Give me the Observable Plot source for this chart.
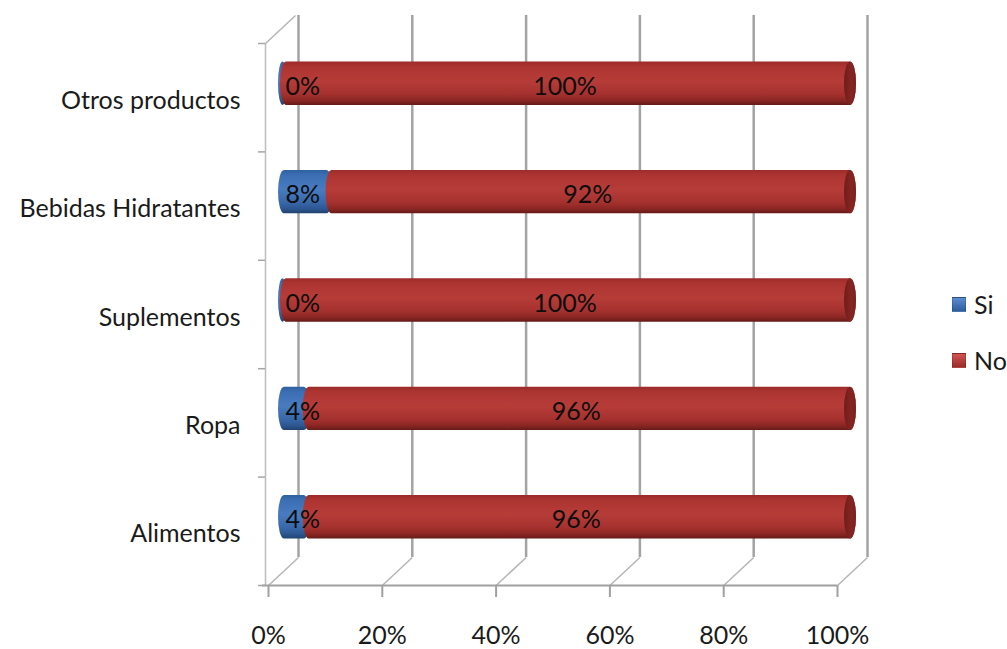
<!DOCTYPE html>
<html><head><meta charset="utf-8">
<script src="https://cdn.jsdelivr.net/npm/d3@7"></script>
<script src="https://cdn.jsdelivr.net/npm/@observablehq/plot@0.6"></script>
<style>
body{margin:0;background:#fff;}
#wrap{position:relative;width:1007px;height:649px;font-family:Lato,"Open Sans",sans-serif;overflow:hidden;}
#legend{position:absolute;left:952px;top:292px;}
.item{display:flex;align-items:center;height:24px;margin-bottom:32px;font-size:25px;color:#1a1a1a;}
.sw{width:14px;height:15px;margin-right:8px;border:1px solid rgba(0,0,0,0.15);box-sizing:border-box;}
</style></head>
<body><div id="wrap"></div>
<script>
const categories = ["Otros productos", "Bebidas Hidratantes", "Suplementos", "Ropa", "Alimentos"];
const series = ["Si", "No"];
const siValues = [0, 8, 0, 4, 4];
const noValues = [100, 92, 100, 96, 96];
const xTicks = [0, 20, 40, 60, 80, 100];

const W = 1007, H = 649, ML = 268, MR = 170, MT = 43, MB = 64;
const FS = 25;
const pxX = (W - ML - MR) / 100;
const pxY = (H - MT - MB) / categories.length;
const depthX = 30 / pxX, depthY = 28 / pxY;

const rows = [];
categories.forEach((c, i) => {
  let acc = 0;
  [siValues[i], noValues[i]].forEach((v, k) => {
    rows.push({category: c, idx: i, series: series[k], value: v, x1: acc, x2: acc + v});
    acc += v;
  });
});
const totals = categories.map((c, i) => ({idx: i, total: siValues[i] + noValues[i]}));
const barY1 = d => d.idx + 0.3, barY2 = d => d.idx + 0.7;
const barOpts = {x1: "x1", x2: "x2", y1: barY1, y2: barY2, dx: 12, dy: -14, rx: 6, ry: 21.7, insetRight: -7};

const plot = Plot.plot({
  width: W, height: H,
  marginLeft: ML, marginRight: MR, marginTop: MT, marginBottom: MB,
  x: {domain: [0, 100]},
  y: {domain: [categories.length, 0]},
  style: {fontFamily: "Lato, 'Open Sans', sans-serif", fontSize: FS + "px", color: "#1a1a1a", background: "white", overflow: "visible"},
  marks: [
    // back wall gridlines
    Plot.ruleX(xTicks, {x: d => d + depthX, y1: -depthY, y2: categories.length - depthY, stroke: "#a3a3a3", strokeWidth: 2.5}),
    // floor diagonals
    Plot.link(xTicks, {x1: d => d, y1: categories.length, x2: d => d + depthX, y2: categories.length - depthY, stroke: "#b5b5b5", strokeWidth: 1.5}),
    // left wall
    Plot.ruleX([0], {y1: 0, y2: categories.length, dx: -3, stroke: "#bdbdbd", strokeWidth: 1.5}),
    Plot.link([0], {x1: 0, y1: 0, x2: depthX, y2: -depthY, dx: -3, stroke: "#b5b5b5", strokeWidth: 1.5}),
    // floor front edge
    Plot.ruleY([categories.length], {x1: -6 / pxX, x2: 100, stroke: "#a0a0a0", strokeWidth: 2}),
    // category boundary ticks
    Plot.axisY(d3.range(categories.length + 1), {tickSize: 7, dx: -3, tickFormat: () => "", stroke: "#a6a6a6", strokeWidth: 1.5}),
    // category labels
    Plot.axisY(categories.map((c, i) => i + 0.5), {tickSize: 0, tickPadding: 28, dy: 3, tickFormat: v => categories[Math.floor(v)], fill: "#1a1a1a", fontSize: FS}),
    // x axis
    Plot.axisX(xTicks, {tickSize: 12, tickPadding: 29, tickFormat: d => d + "%", stroke: "#a0a0a0", strokeWidth: 2, fill: "#1a1a1a", fontSize: FS}),
    // bars (cylinders)
    Plot.rect(rows.filter(d => d.series === "Si"), {...barOpts, insetLeft: -2, fill: "url(#gSi)"}),
    Plot.rect(rows.filter(d => d.series === "No"), {...barOpts, insetLeft: 0, fill: "url(#gNo)"}),
    Plot.rect(totals, {x1: "total", x2: "total", y1: barY1, y2: barY2, dx: 13, dy: -14, insetLeft: -6, insetRight: -6, rx: 6, ry: 21.7, fill: "url(#gCap)"}),
    // data labels
    Plot.text(rows.filter(d => d.series === "Si"), {x: 0, y: d => d.idx + 0.5, dx: 17, dy: -11, text: d => d.value + "%", textAnchor: "start", fill: "#0d0d0d", fontSize: FS}),
    Plot.text(rows.filter(d => d.series === "No"), {x: d => (d.x1 + d.x2) / 2, y: d => d.idx + 0.5, dx: 12, dy: -11, text: d => d.value + "%", fill: "#0d0d0d", fontSize: FS})
  ]
});

const defs = d3.select(plot).insert("defs", ":first-child");
defs.html(`
<linearGradient id="gNo" x1="0" y1="0" x2="0" y2="1">
  <stop offset="0" stop-color="#9c2b29"/><stop offset="0.12" stop-color="#ad3531"/>
  <stop offset="0.45" stop-color="#b63c38"/><stop offset="0.75" stop-color="#a5312e"/>
  <stop offset="0.9" stop-color="#8a2623"/><stop offset="1" stop-color="#651a18"/>
</linearGradient>
<linearGradient id="gSi" x1="0" y1="0" x2="0" y2="1">
  <stop offset="0" stop-color="#30609f"/><stop offset="0.12" stop-color="#3b6eb3"/>
  <stop offset="0.45" stop-color="#487bc0"/><stop offset="0.75" stop-color="#3868a9"/>
  <stop offset="0.9" stop-color="#2c5690"/><stop offset="1" stop-color="#21416e"/>
</linearGradient>
<linearGradient id="gCap" x1="0" y1="0" x2="1" y2="0">
  <stop offset="0" stop-color="#6e1d1b"/><stop offset="0.6" stop-color="#862522"/><stop offset="1" stop-color="#7a211f"/>
</linearGradient>`);

const wrap = document.getElementById("wrap");
wrap.appendChild(plot);
const legendColors = {Si: "linear-gradient(#5b8bd0,#2f5e9e)", No: "linear-gradient(#d05450,#9c2b29)"};
const legend = document.createElement("div");
legend.id = "legend";
series.forEach(s => {
  const item = document.createElement("div");
  item.className = "item";
  const sw = document.createElement("span");
  sw.className = "sw";
  sw.style.background = legendColors[s];
  const t = document.createElement("span");
  t.textContent = s;
  item.appendChild(sw); item.appendChild(t);
  legend.appendChild(item);
});
wrap.appendChild(legend);
</script>
</body></html>
